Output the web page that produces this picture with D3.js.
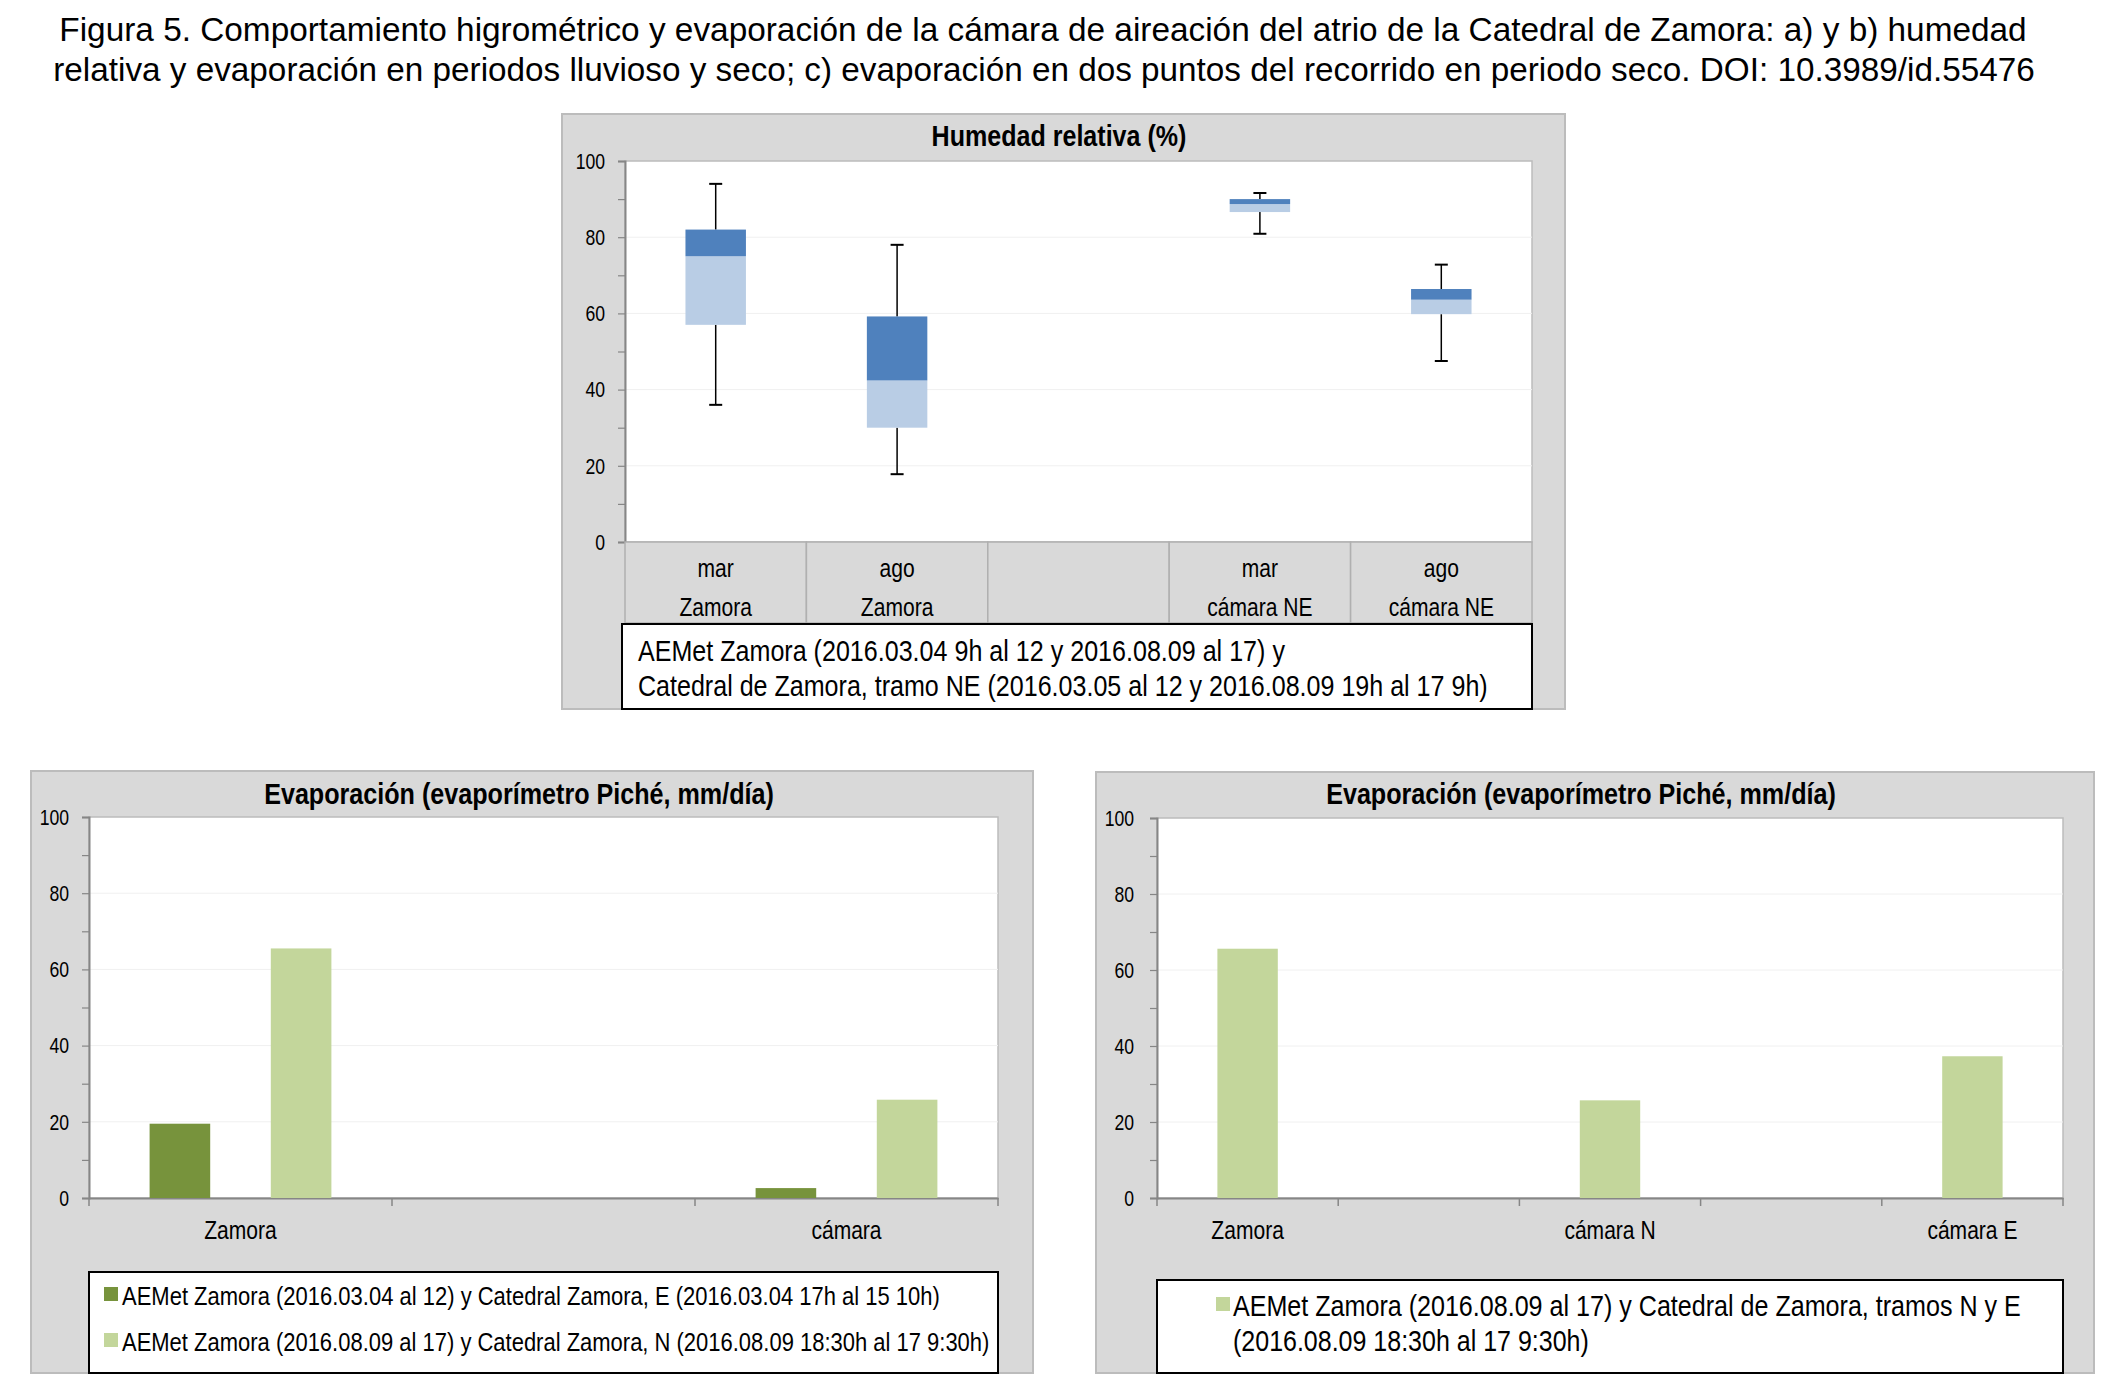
<!DOCTYPE html>
<html><head><meta charset="utf-8">
<script src="https://cdn.jsdelivr.net/npm/d3@7"></script>
<style>
body{margin:0;background:#fff;}
svg{display:block;}
text{font-family:"Liberation Sans",Arial,Helvetica,sans-serif;fill:#000;}
</style></head>
<body>
<svg id="c" width="2108" height="1380"></svg>
<script>
// ---------------- DATA ----------------
const captionLines = [
  "Figura 5. Comportamiento higrométrico y evaporación de la cámara de aireación del atrio de la Catedral de Zamora: a) y b) humedad",
  "relativa y evaporación en periodos lluvioso y seco; c) evaporación en dos puntos del recorrido en periodo seco. DOI: 10.3989/id.55476"
];
const yTicks = [0, 20, 40, 60, 80, 100];

// a) Humedad relativa (box plot)
const hrTitle = "Humedad relativa (%)";
const hrMonths = ["mar", "ago", "", "mar", "ago"];
const hrSites  = ["Zamora", "Zamora", "", "cámara NE", "cámara NE"];
const hrMin    = [36,   17.8, null, 80.9, 47.5];
const hrQ1     = [57,   30,   null, 86.6, 59.8];
const hrMedian = [75,   42.4, null, 88.7, 63.6];
const hrQ3     = [82,   59.2, null, 90,   66.4];
const hrMax    = [94,   78,   null, 91.6, 72.8];
const hrLegend = [
  "AEMet Zamora (2016.03.04 9h al 12 y 2016.08.09 al 17) y",
  "Catedral de Zamora, tramo NE (2016.03.05 al 12 y 2016.08.09 19h al 17 9h)"
];

// b) Evaporación, periodos lluvioso y seco
const evTitle = "Evaporación (evaporímetro Piché, mm/día)";
const evACategories = ["Zamora", "", "cámara"];
const evASeriesNames = [
  "AEMet Zamora (2016.03.04 al 12) y Catedral Zamora, E (2016.03.04 17h al 15 10h)",
  "AEMet Zamora (2016.08.09 al 17) y Catedral Zamora, N (2016.08.09 18:30h al 17 9:30h)"
];
const evAMar = [19.5, null, 2.6];
const evAAgo = [65.5, null, 25.8];

// c) Evaporación en dos puntos del recorrido (periodo seco)
const evBCategories = ["Zamora", "", "cámara N", "", "cámara E"];
const evBValues = [65.6, null, 25.7, null, 37.3];
const evBLegend = [
  "AEMet Zamora (2016.08.09 al 17) y Catedral de Zamora, tramos N y E",
  "(2016.08.09 18:30h al 17 9:30h)"
];

// ---------------- STYLE ----------------
const C = {
  panel: "#d9d9d9", panelStroke: "#bcbcbc", axis: "#868686", grid: "#f0f0f0",
  dark: "#4f81bd", light: "#b9cde5", gDark: "#77933c", gLight: "#c3d69b"
};
const NARROW = 0.81;

const svg = d3.select("#c");

// narrow (condensed) text: Liberation Sans compressed horizontally
function ntext(parent, x, y, txt, opt = {}) {
  const g = parent.append("g").attr("transform", `translate(${x},${y})`);
  const t = g.append("text").attr("x", 0).attr("y", 0)
    .attr("font-size", opt.size || 26)
    .attr("text-anchor", opt.anchor || "start")
    .attr("font-weight", opt.weight || "normal")
    .attr("dy", opt.dy || null)
    .text(txt);
  let sx = opt.sx || NARROW;
  if (opt.width) {
    const w = t.node().getComputedTextLength();
    if (w > 0) sx = opt.width / w;
  }
  g.attr("transform", `translate(${x},${y}) scale(${sx},1)`);
  return t;
}

function fitText(sel, target) {
  const node = sel.node();
  const fs = parseFloat(sel.attr("font-size"));
  const w = node.getComputedTextLength();
  if (w > 0) sel.attr("font-size", fs * target / w);
}

// caption
const capBase = [41, 81];
const capW = [1968, 1982];
const capX = [1043, 1044];
captionLines.forEach((t, i) => {
  const s = svg.append("text").attr("x", capX[i]).attr("y", capBase[i])
    .attr("text-anchor", "middle").attr("font-size", 32).text(t);
  fitText(s, capW[i]);
});

function panel(x, y, w, h) {
  svg.append("rect").attr("x", x).attr("y", y).attr("width", w).attr("height", h)
    .attr("fill", C.panel).attr("stroke", C.panelStroke).attr("stroke-width", 2);
}

function yAxisDraw(g, y, x0, x1, labelX) {
  g.selectAll(".grid").data(yTicks.filter(d => d > 0 && d < 100)).join("line")
    .attr("class", "grid")
    .attr("x1", x0).attr("x2", x1).attr("y1", d => y(d)).attr("y2", d => y(d))
    .attr("stroke", C.grid).attr("stroke-width", 1);
  const ax = g.append("g").attr("transform", `translate(${x0},0)`)
    .call(d3.axisLeft(y).tickValues(d3.range(0, 101, 10)).tickSize(7).tickFormat(""));
  ax.select(".domain").attr("stroke", C.axis).attr("stroke-width", 2);
  ax.selectAll(".tick line").attr("stroke", C.axis).attr("stroke-width", 1.2);
  yTicks.forEach(d => ntext(g, labelX, y(d), String(d), {size: 22, anchor: "end", dy: "0.35em", sx: 0.8}));
}

// ================= a) Humedad relativa =================
(function () {
  const plot = {l: 625, r: 1532, t: 161, b: 542};
  panel(562, 114, 1003, 595);
  const g = svg.append("g");
  g.append("rect").attr("x", plot.l).attr("y", plot.t).attr("width", plot.r - plot.l)
    .attr("height", plot.b - plot.t).attr("fill", "#fff").attr("stroke", C.panelStroke).attr("stroke-width", 1.5);
  ntext(g, 1059, 146, hrTitle, {size: 29, anchor: "middle", weight: "bold", width: 255});

  const y = d3.scaleLinear().domain([0, 100]).range([plot.b, plot.t]);
  const idx = d3.range(hrMonths.length);
  const x = d3.scaleBand().domain(idx).range([plot.l, plot.r]).padding(0);
  yAxisDraw(g, y, plot.l, plot.r, 605);

  // category table
  const catB = 623;
  g.selectAll(".cell").data(idx).join("rect").attr("class", "cell")
    .attr("x", d => x(d)).attr("y", plot.b).attr("width", x.bandwidth()).attr("height", catB - plot.b)
    .attr("fill", C.panel).attr("stroke", "#b0b0b0").attr("stroke-width", 1.5);
  idx.forEach(d => {
    const cx = x(d) + x.bandwidth() / 2;
    ntext(g, cx, 577, hrMonths[d], {size: 26, anchor: "middle"});
    ntext(g, cx, 616, hrSites[d], {size: 26, anchor: "middle"});
  });

  const bw = x.bandwidth() / 3;
  const cap = 13;
  const data = idx.filter(i => hrMin[i] != null);
  const bx = i => x(i) + x.bandwidth() / 2;
  g.selectAll(".wu").data(data).join("line").attr("class", "wu").attr("x1", bx).attr("x2", bx)
    .attr("y1", i => y(hrQ3[i])).attr("y2", i => y(hrMax[i])).attr("stroke", "#000").attr("stroke-width", 1.5);
  g.selectAll(".wl").data(data).join("line").attr("class", "wl").attr("x1", bx).attr("x2", bx)
    .attr("y1", i => y(hrQ1[i])).attr("y2", i => y(hrMin[i])).attr("stroke", "#000").attr("stroke-width", 1.5);
  g.selectAll(".cu").data(data).join("line").attr("class", "cu").attr("x1", i => bx(i) - cap / 2).attr("x2", i => bx(i) + cap / 2)
    .attr("y1", i => y(hrMax[i])).attr("y2", i => y(hrMax[i])).attr("stroke", "#000").attr("stroke-width", 2);
  g.selectAll(".cl").data(data).join("line").attr("class", "cl").attr("x1", i => bx(i) - cap / 2).attr("x2", i => bx(i) + cap / 2)
    .attr("y1", i => y(hrMin[i])).attr("y2", i => y(hrMin[i])).attr("stroke", "#000").attr("stroke-width", 2);
  g.selectAll(".bl").data(data).join("rect").attr("class", "bl").attr("x", i => bx(i) - bw / 2).attr("width", bw)
    .attr("y", i => y(hrMedian[i])).attr("height", i => y(hrQ1[i]) - y(hrMedian[i])).attr("fill", C.light);
  g.selectAll(".bu").data(data).join("rect").attr("class", "bu").attr("x", i => bx(i) - bw / 2).attr("width", bw)
    .attr("y", i => y(hrQ3[i])).attr("height", i => y(hrMedian[i]) - y(hrQ3[i])).attr("fill", C.dark);

  // legend
  g.append("rect").attr("x", 622).attr("y", 624).attr("width", 910).attr("height", 85)
    .attr("fill", "#fff").attr("stroke", "#000").attr("stroke-width", 2);
  ntext(g, 638, 661, hrLegend[0], {size: 29, width: 647});
  ntext(g, 638, 696, hrLegend[1], {size: 29, width: 850});
})();

// ================= generic bar chart =================
function barChart(opt) {
  const P = opt.P, plot = opt.plot;
  panel(P.x, P.y, P.w, P.h);
  const g = svg.append("g");
  g.append("rect").attr("x", plot.l).attr("y", plot.t).attr("width", plot.r - plot.l)
    .attr("height", plot.b - plot.t).attr("fill", "#fff").attr("stroke", C.panelStroke).attr("stroke-width", 1.5);
  ntext(g, opt.titleX, opt.titleY, evTitle, {size: 29, anchor: "middle", weight: "bold", width: 510});
  const y = d3.scaleLinear().domain([0, 100]).range([plot.b, plot.t]);
  const x = d3.scaleBand().domain(d3.range(opt.categories.length)).range([plot.l, plot.r]).padding(0);
  yAxisDraw(g, y, plot.l, plot.r, opt.labelX);
  const xa = g.append("g").attr("transform", `translate(0,${plot.b})`)
    .call(d3.axisBottom(x).tickSize(0).tickFormat(""));
  xa.select(".domain").attr("stroke", C.axis).attr("stroke-width", 2);
  const bounds = d3.range(opt.categories.length + 1).map(i => plot.l + i * x.bandwidth());
  g.selectAll(".xt").data(bounds).join("line").attr("class", "xt").attr("x1", d => d).attr("x2", d => d)
    .attr("y1", plot.b).attr("y2", plot.b + 8).attr("stroke", C.axis).attr("stroke-width", 1.5);
  opt.categories.forEach((d, i) => ntext(g, x(i) + x.bandwidth() / 2, plot.b + 41, d, {size: 26, anchor: "middle"}));
  opt.series.forEach((s, k) => {
    const inner = d3.scaleBand().domain(opt.slots).range([0, x.bandwidth()]).padding(0);
    g.selectAll(".bar" + k).data(s.values.map((v, i) => ({v, i})).filter(d => d.v != null)).join("rect")
      .attr("class", "bar" + k)
      .attr("x", d => x(d.i) + inner(s.slot)).attr("width", inner.bandwidth())
      .attr("y", d => y(d.v)).attr("height", d => y(0) - y(d.v)).attr("fill", s.color);
  });
  const L = opt.legend;
  g.append("rect").attr("x", L.x).attr("y", L.y).attr("width", L.w).attr("height", L.h)
    .attr("fill", "#fff").attr("stroke", "#000").attr("stroke-width", 2);
  L.items.forEach(it => {
    if (it.color) g.append("rect").attr("x", it.sx).attr("y", it.cy - 9).attr("width", 14).attr("height", 14).attr("fill", it.color);
    ntext(g, it.tx, it.cy, it.text, {size: it.size, dy: "0.35em", width: it.tw});
  });
}

barChart({
  P: {x: 31, y: 771, w: 1002, h: 602},
  plot: {l: 89, r: 998, t: 817, b: 1198},
  titleX: 519, titleY: 804, labelX: 69,
  categories: evACategories,
  slots: ["pre", "mar", "gap", "ago", "post"],
  series: [
    {values: evAMar, color: C.gDark, slot: "mar"},
    {values: evAAgo, color: C.gLight, slot: "ago"}
  ],
  legend: {x: 89, y: 1272, w: 909, h: 101, items: [
    {color: C.gDark, sx: 104, tx: 122, cy: 1296, text: evASeriesNames[0], tw: 818, size: 26},
    {color: C.gLight, sx: 104, tx: 122, cy: 1342, text: evASeriesNames[1], tw: 868, size: 26}
  ]}
});

barChart({
  P: {x: 1096, y: 772, w: 998, h: 601},
  plot: {l: 1157, r: 2063, t: 818, b: 1198},
  titleX: 1581, titleY: 804, labelX: 1134,
  categories: evBCategories,
  slots: ["pre", "v", "post"],
  series: [{values: evBValues, color: C.gLight, slot: "v"}],
  legend: {x: 1157, y: 1280, w: 906, h: 93, items: [
    {color: C.gLight, sx: 1216, tx: 1233, cy: 1306, text: evBLegend[0], tw: 788, size: 29},
    {color: null, sx: 0, tx: 1233, cy: 1341, text: evBLegend[1], tw: 356, size: 29}
  ]}
});
</script>
</body></html>
